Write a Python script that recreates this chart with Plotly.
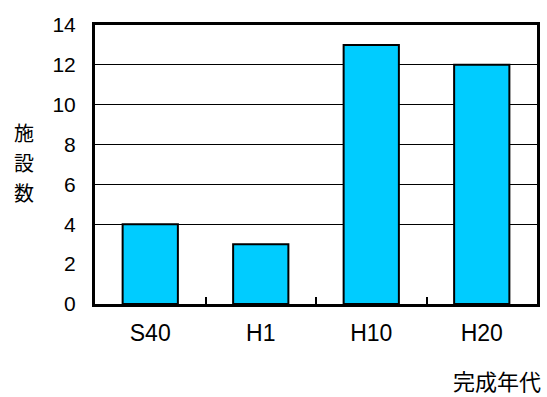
import plotly.graph_objects as go

# Facilities by completion era
eras = ["S40", "H1", "H10", "H20"]
counts = [4, 3, 13, 12]
y_ticks = [0, 2, 4, 6, 8, 10, 12, 14]
grid_vals = [4, 6, 8, 10, 12]
y_title_chars = ["施", "設", "数"]
x_title = "完成年代"

NUM_FONT = "Liberation Sans, Arial, sans-serif"
CJK_FONT = "Noto Sans CJK JP, sans-serif"

fig = go.Figure()
fig.add_trace(go.Bar(
    x=eras, y=counts, width=0.5,
    marker=dict(color="#00CCFF", line=dict(color="black", width=2)),
    showlegend=False, hoverinfo="skip",
))

# vertical axis title, one character per line
annotations = []
for i, ch in enumerate(y_title_chars):
    annotations.append(dict(
        text=ch, xref="paper", yref="paper", x=0, y=0.613 - i * 0.1075,
        xshift=-71, xanchor="center", yanchor="middle", showarrow=False,
        borderpad=0,
        font=dict(family=CJK_FONT, size=20, color="black"),
    ))
annotations.append(dict(
    text=x_title, xref="paper", yref="paper", x=1, y=-0.272,
    xshift=5, xanchor="right", yanchor="middle", showarrow=False,
    borderpad=0,
    font=dict(family=CJK_FONT, size=22, color="black"),
))

fig.update_layout(
    width=547, height=397,
    margin=dict(l=95, r=7, t=25, b=93),
    paper_bgcolor="white", plot_bgcolor="white",
    xaxis=dict(
        type="category", tickson="boundaries", ticks="inside", ticklen=7,
        tickwidth=1.5, tickcolor="black",
        showline=True, linecolor="black", linewidth=3, mirror=True,
        showgrid=False, tickfont=dict(family=NUM_FONT, size=23, color="black"),
        ticklabelstandoff=6,
    ),
    yaxis=dict(
        range=[0, 14], tickvals=y_ticks, ticks="", showgrid=False,
        zeroline=False, showline=True, linecolor="black", linewidth=3,
        mirror=True, tickfont=dict(family=NUM_FONT, size=21, color="black"),
        ticklabelstandoff=12,
        minor=dict(tickvals=grid_vals, showgrid=True, gridcolor="black",
                   gridwidth=1, ticks=""),
    ),
    annotations=annotations,
)

fig.write_html("out.html")
